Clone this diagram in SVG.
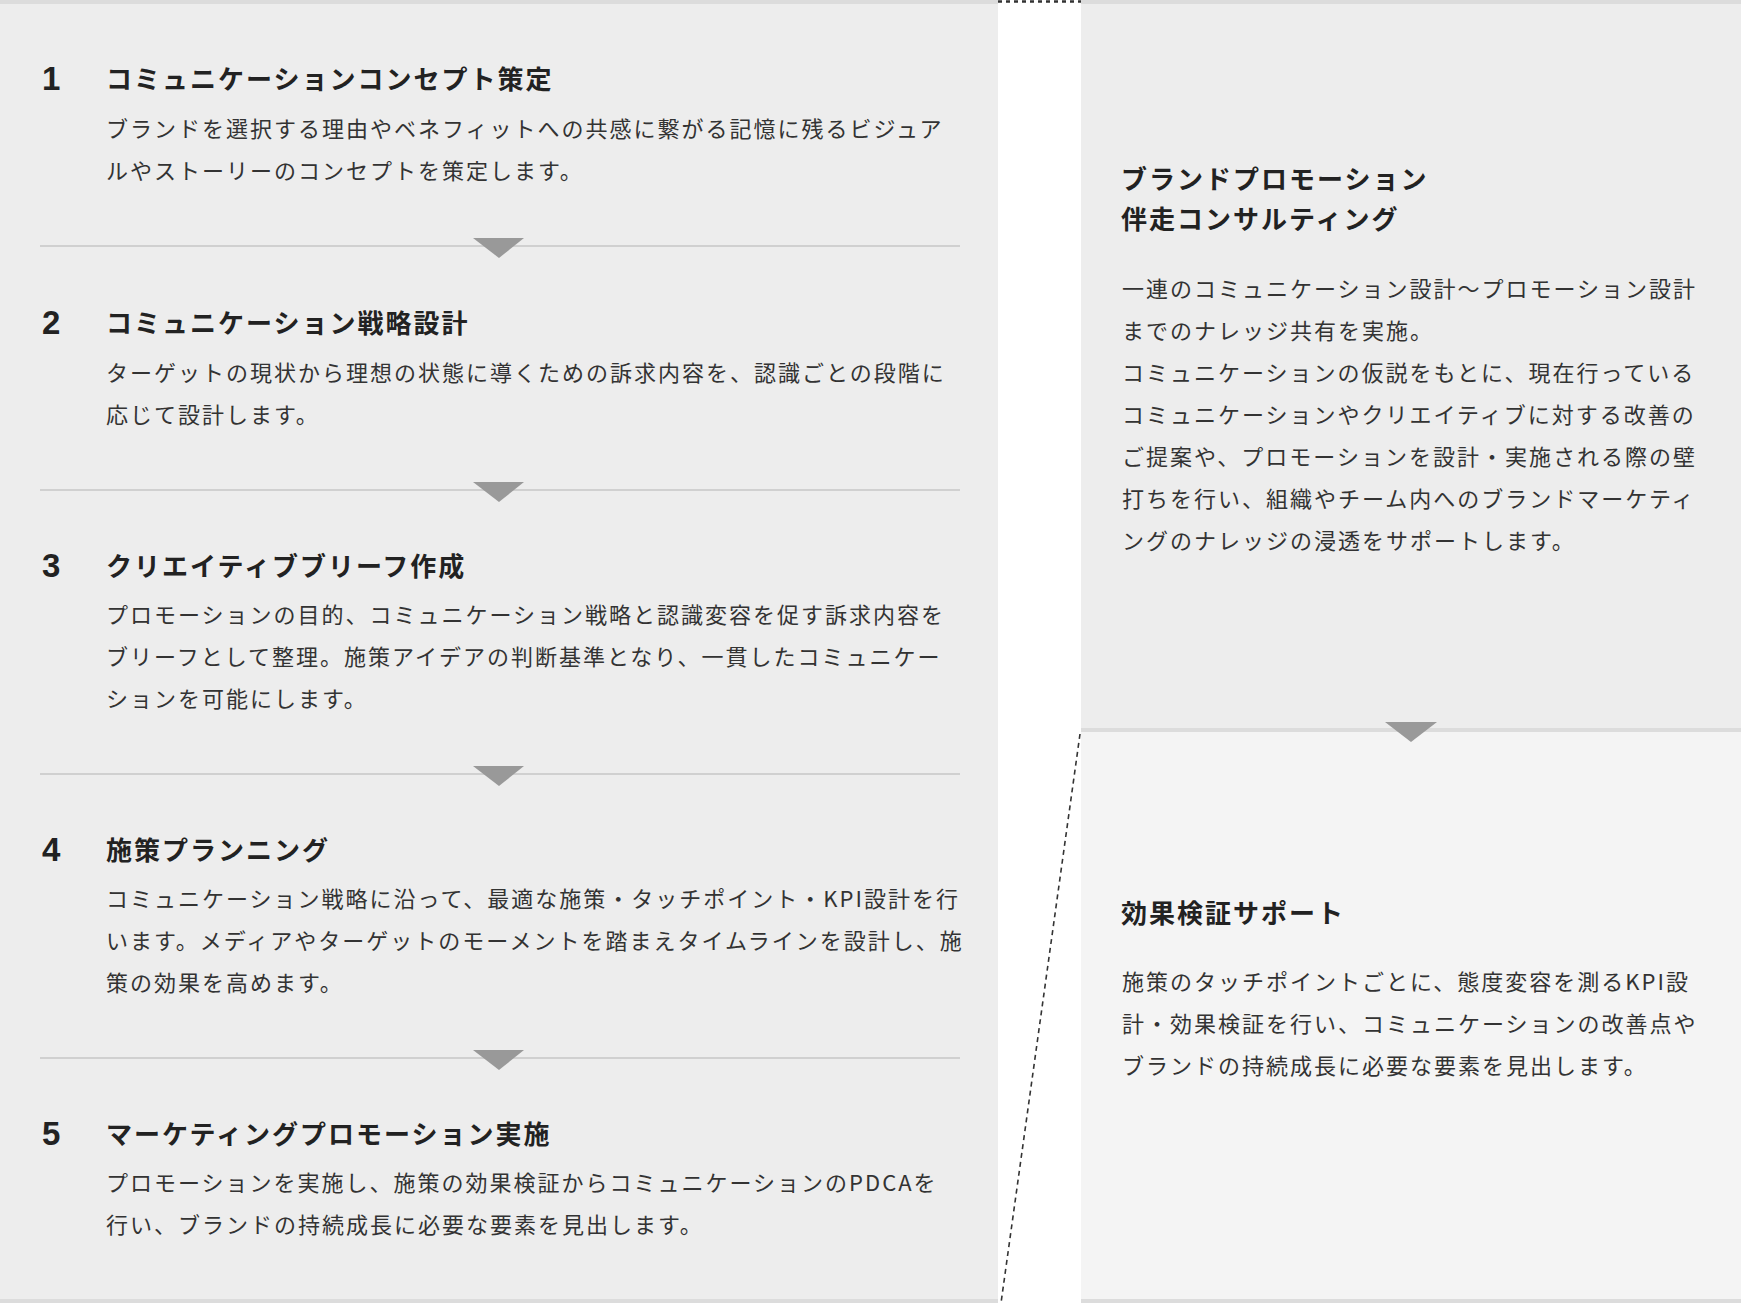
<svg xmlns="http://www.w3.org/2000/svg" width="1741" height="1303" viewBox="0 0 1741 1303">
<style>
.num{font-family:"Liberation Sans",Arial,sans-serif;font-weight:bold;font-size:33px;fill:#222}
.ttl{font-family:"Noto Sans CJK JP","Noto Sans",sans-serif;font-weight:bold;font-size:26px;letter-spacing:2px;fill:#222}
.bd{font-family:"Noto Sans CJK JP","Noto Sans",sans-serif;font-size:22px;letter-spacing:2px;fill:#333}
.sep{fill:#d0d0d0}
.tri{fill:#999}
</style>
<rect x="0" y="0" width="1741" height="1303" fill="#ffffff"/>
<g id="panels">
<rect x="0" y="0" width="998" height="1303" fill="#ededed"/>
<rect x="0" y="0" width="998" height="4" fill="#dcdcdc"/>
<rect x="0" y="1299" width="998" height="4" fill="#dcdcdc"/>
<rect x="1081" y="0" width="660" height="732" fill="#ededed"/>
<rect x="1081" y="0" width="660" height="4" fill="#dcdcdc"/>
<rect x="1081" y="732" width="660" height="571" fill="#f4f4f4"/>
<rect x="1081" y="728" width="660" height="4" fill="#dcdcdc"/>
<rect x="1081" y="1299" width="660" height="4" fill="#dcdcdc"/>
</g>
<g id="connectors">
<rect class="sep" x="40" y="245" width="920" height="2"/>
<polygon class="tri" points="473,238 524,238 499,258"/>
<rect class="sep" x="40" y="489" width="920" height="2"/>
<polygon class="tri" points="473,482 524,482 499,502"/>
<rect class="sep" x="40" y="773" width="920" height="2"/>
<polygon class="tri" points="473,766 524,766 499,786"/>
<rect class="sep" x="40" y="1057" width="920" height="2"/>
<polygon class="tri" points="473,1050 524,1050 499,1070"/>
<polygon class="tri" points="1385,722 1437,722 1411,742"/>
<line x1="998" y1="1.5" x2="1081" y2="1.5" stroke="#333" stroke-width="2.5" stroke-dasharray="4 4"/>
<line x1="1080" y1="734" x2="1001" y2="1303" stroke="#333" stroke-width="1.6" stroke-dasharray="5 4"/>
</g>
<g id="step1">
<text class="num" x="42" y="90">1</text>
<text class="ttl" x="106" y="89">コミュニケーションコンセプト策定</text>
<text class="bd" x="106" y="137">ブランドを選択する理由やベネフィットへの共感に繋がる記憶に残るビジュア</text>
<text class="bd" x="106" y="179">ルやストーリーのコンセプトを策定します。</text>
</g>
<g id="step2">
<text class="num" x="42" y="334">2</text>
<text class="ttl" x="106" y="333">コミュニケーション戦略設計</text>
<text class="bd" x="106" y="381">ターゲットの現状から理想の状態に導くための訴求内容を、認識ごとの段階に</text>
<text class="bd" x="106" y="423">応じて設計します。</text>
</g>
<g id="step3">
<text class="num" x="42" y="577">3</text>
<text class="ttl" x="106" y="576">クリエイティブブリーフ作成</text>
<text class="bd" x="106" y="623">プロモーションの目的、コミュニケーション戦略と認識変容を促す訴求内容を</text>
<text class="bd" x="106" y="665">ブリーフとして整理。施策アイデアの判断基準となり、一貫したコミュニケー</text>
<text class="bd" x="106" y="707">ションを可能にします。</text>
</g>
<g id="step4">
<text class="num" x="42" y="861">4</text>
<text class="ttl" x="106" y="860">施策プランニング</text>
<text class="bd" x="106" y="907">コミュニケーション戦略に沿って、最適な施策・タッチポイント・KPI設計を行</text>
<text class="bd" x="106" y="949">います。メディアやターゲットのモーメントを踏まえタイムラインを設計し、施</text>
<text class="bd" x="106" y="991">策の効果を高めます。</text>
</g>
<g id="step5">
<text class="num" x="42" y="1145">5</text>
<text class="ttl" x="106" y="1144">マーケティングプロモーション実施</text>
<text class="bd" x="106" y="1191">プロモーションを実施し、施策の効果検証からコミュニケーションのPDCAを</text>
<text class="bd" x="106" y="1233">行い、ブランドの持続成長に必要な要素を見出します。</text>
</g>
<g id="consulting">
<text class="ttl" x="1121" y="189">ブランドプロモーション</text>
<text class="ttl" x="1121" y="228.5">伴走コンサルティング</text>
<text class="bd" x="1122" y="297">一連のコミュニケーション設計〜プロモーション設計</text>
<text class="bd" x="1122" y="339">までのナレッジ共有を実施。</text>
<text class="bd" x="1122" y="381">コミュニケーションの仮説をもとに、現在行っている</text>
<text class="bd" x="1122" y="423">コミュニケーションやクリエイティブに対する改善の</text>
<text class="bd" x="1122" y="465">ご提案や、プロモーションを設計・実施される際の壁</text>
<text class="bd" x="1122" y="507">打ちを行い、組織やチーム内へのブランドマーケティ</text>
<text class="bd" x="1122" y="549">ングのナレッジの浸透をサポートします。</text>
</g>
<g id="verification">
<text class="ttl" x="1121" y="923">効果検証サポート</text>
<text class="bd" x="1122" y="990">施策のタッチポイントごとに、態度変容を測るKPI設</text>
<text class="bd" x="1122" y="1032">計・効果検証を行い、コミュニケーションの改善点や</text>
<text class="bd" x="1122" y="1074">ブランドの持続成長に必要な要素を見出します。</text>
</g>
</svg>
